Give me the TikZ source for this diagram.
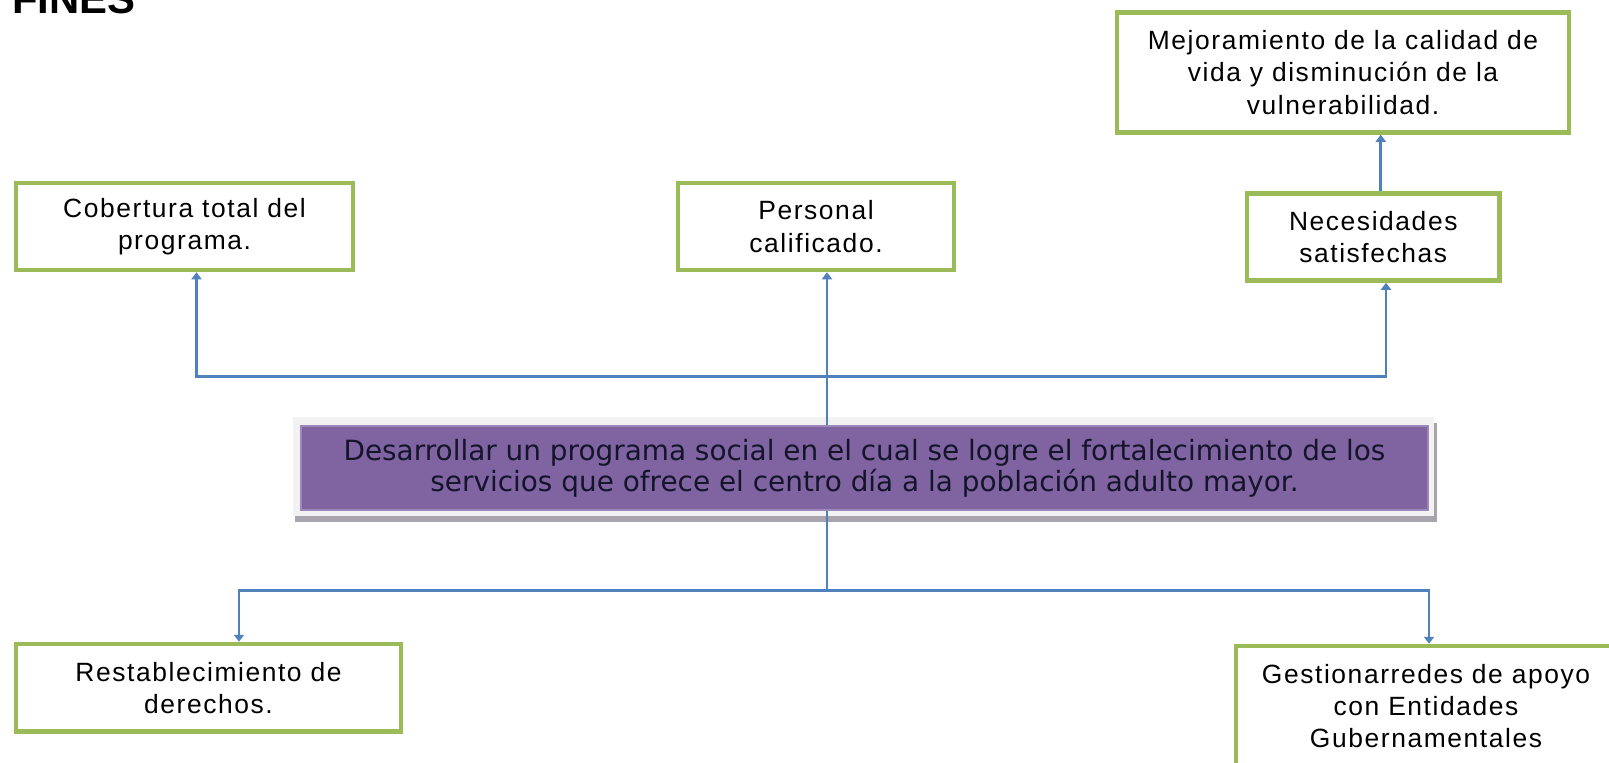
\documentclass[tikz,border=0pt]{standalone}
\usepackage{fontspec}
\setmainfont{Liberation Sans}
\newfontfamily\boxfont{Liberation Sans}[LetterSpace=6]
\newfontfamily\goalfont{DejaVu Sans}
\usetikzlibrary{arrows.meta}
\definecolor{boxgreen}{HTML}{9BBB59}
\definecolor{linkblue}{HTML}{4F81BD}
\definecolor{goalpurple}{HTML}{8064A2}
\definecolor{goaledge}{HTML}{9D88BE}
\definecolor{framegrey}{HTML}{F2F2F2}
\definecolor{shadowgrey}{HTML}{A8A4AE}
\definecolor{goaltext}{HTML}{14142A}
\tikzset{
  finbox/.style={draw=boxgreen, line width=4.5bp, fill=white, inner sep=0pt,
    align=center, font=\boxfont\fontsize{26.5}{32.5}\selectfont, text=black},
  goalbox/.style={draw=goaledge, line width=2bp, fill=goalpurple, inner sep=0pt,
    align=center, font=\goalfont\fontsize{28}{31}\selectfont, text=goaltext},
  link/.style={draw=linkblue, line width=2.7bp},
  linkarrow/.style={link, -{Triangle[length=7bp,width=10bp]}},
}
\begin{document}
\begin{tikzpicture}[x=1bp,y=-1bp]
\useasboundingbox (0,0) rectangle (1609,763);
\clip (0,0) rectangle (1609,763);
\fill[white] (0,0) rectangle (1609,763);

\node[anchor=base west, inner sep=0pt, font=\bfseries\fontsize{42}{42}\selectfont] (title) at (12,13.5) {FINES};

% top boxes
\node[finbox, minimum width=452bp, minimum height=120bp] (mej) at (1343,72.5)
  {Mejoramiento de la calidad de\\vida y disminución de la\\vulnerabilidad.};
\node[finbox, minimum width=337bp, minimum height=87bp] (cob) at (184.5,226.5)
  {Cobertura total del\\programa.};
\node[finbox, minimum width=276bp, minimum height=87bp] (per) at (816,226.5)
  {Personal\\calificado.};
\node[finbox, minimum width=252.5bp, minimum height=87bp] (nec) at (1373.25,237)
  {Necesidades\\satisfechas};

% central goal
\fill[shadowgrey] (295,423) rectangle (1437,522);
\fill[framegrey] (293,417) rectangle (1434,516);
\node[goalbox, minimum width=1127bp, minimum height=84bp] (goal) at (864.5,468)
  {Desarrollar un programa social en el cual se logre el fortalecimiento de los\\servicios que ofrece el centro día a la población adulto mayor.};

% bottom boxes
\node[finbox, minimum width=385bp, minimum height=87.5bp] (res) at (208.5,687.75)
  {Restablecimiento de\\derechos.};
\node[finbox, minimum width=380bp, minimum height=120bp] (ges) at (1426,706)
  {Gestionarredes de apoyo\\con Entidades\\Gubernamentales};

% connectors
\coordinate (axis) at (827,0);
\coordinate (tj) at (827,376.7);
\coordinate (bj) at (827,590.5);

\draw[linkarrow] (goal.north -| axis) -- (per.south -| axis);
\draw[linkarrow] (tj) -| ([xshift=12bp]cob.south);
\draw[linkarrow] (tj) -| ([xshift=12.75bp]nec.south);
\draw[linkarrow] ([xshift=7.5bp]nec.north) -- ([xshift=7.5bp]nec.north |- mej.south);

\draw[link] (goal.south -| axis) -- (bj);
\draw[linkarrow] (bj) -| ([xshift=30.5bp]res.north);
\draw[linkarrow] (bj) -| ([xshift=3bp]ges.north);
\end{tikzpicture}
\end{document}
